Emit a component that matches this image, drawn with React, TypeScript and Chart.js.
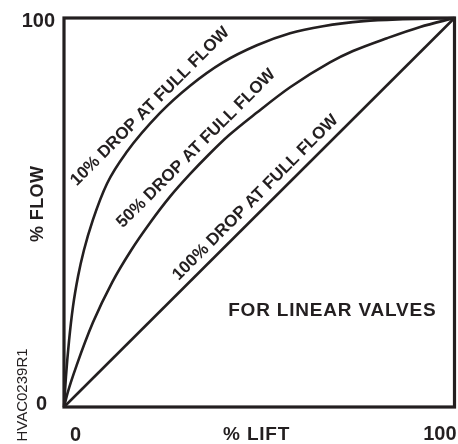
import React, { useEffect, useRef } from 'react';
import { Chart, registerables } from 'chart.js';

Chart.register(...registerables);

// ---- data ----
const liftTicks = [0, 100];
const flowTicks = [0, 100];

const lift10 = [0, 0.5, 1.3, 2.3, 3.6, 5.1, 7.4, 11, 16.1, 24.6, 32.3, 40.7, 49.4, 57.9, 66.3, 76.8, 86.8, 100];
const flow10 = [0, 7.8, 17.1, 25.8, 33.6, 40.3, 48.1, 57.4, 65.6, 75.6, 82.6, 88.6, 93, 96.1, 97.9, 99.2, 99.7, 100];

const lift50 = [0, 1.0, 3.3, 7.4, 12.3, 17.2, 22, 27.1, 32.3, 37.1, 42.3, 49.4, 57.9, 68.1, 74, 82.7, 91.2, 100];
const flow50 = [0, 3.9, 10.9, 21.7, 32, 40.3, 47.3, 54, 59.9, 64.9, 69.9, 75.7, 82.2, 88.6, 91.5, 94.8, 97.7, 100];

const lift100 = [0, 100];
const flow100 = [0, 100];

const curveLabels = ['10% DROP AT FULL FLOW', '50% DROP AT FULL FLOW', '100% DROP AT FULL FLOW'];
const curveLabelLift = [21.8, 33.6, 48.8];
const curveLabelFlow = [77.5, 66.7, 54.1];

const noteText = 'FOR LINEAR VALVES';
const xTitle = '% LIFT';
const yTitle = '% FLOW';
const figureCode = 'HVAC0239R1';

const INK = '#231f20';
const FONT = '"Liberation Sans", Arial, Helvetica, sans-serif';

function toPoints(xs: number[], ys: number[]) {
  return xs.map((x, i) => ({ x, y: ys[i] }));
}

function drawText(
  ctx: CanvasRenderingContext2D,
  text: string,
  x: number,
  y: number,
  size: number,
  bold: boolean,
  align: CanvasTextAlign,
  rotation = 0,
  spacing = 0
) {
  ctx.save();
  ctx.translate(x, y);
  ctx.rotate(rotation);
  ctx.font = `${bold ? 'bold ' : ''}${size}px ${FONT}`;
  ctx.fillStyle = INK;
  ctx.textBaseline = 'alphabetic';
  (ctx as any).letterSpacing = `${spacing}px`;
  const w = ctx.measureText(text).width - spacing;
  let x0 = 0;
  if (align === 'center') x0 = -w / 2;
  else if (align === 'right') x0 = -w;
  ctx.textAlign = 'left';
  ctx.fillText(text, x0, size * 0.358);
  ctx.restore();
}

const decorPlugin = {
  id: 'decor',
  afterDatasetsDraw(chart: any) {
    const { ctx, chartArea, scales } = chart;
    const xs = scales.x;
    const ys = scales.y;
    ctx.save();
    // frame
    ctx.strokeStyle = INK;
    ctx.lineWidth = 3.2;
    ctx.strokeRect(chartArea.left, chartArea.top, chartArea.right - chartArea.left, chartArea.bottom - chartArea.top);

    // curve labels
    curveLabels.forEach((t, i) => {
      drawText(ctx, t, xs.getPixelForValue(curveLabelLift[i]), ys.getPixelForValue(curveLabelFlow[i]), 17, true, 'center', -Math.PI / 4);
    });

    // note
    drawText(ctx, noteText, xs.getPixelForValue(68.6), ys.getPixelForValue(25.1), 19, true, 'center', 0, 0.8);

    // y tick labels
    drawText(ctx, String(flowTicks[1]), chartArea.left - 9, ys.getPixelForValue(flowTicks[1]) + 1.5, 20, true, 'right');
    drawText(ctx, String(flowTicks[0]), chartArea.left - 17, ys.getPixelForValue(flowTicks[0]) - 4.5, 20, true, 'right');
    // x tick labels
    drawText(ctx, String(liftTicks[0]), xs.getPixelForValue(liftTicks[0]) + 6, chartArea.bottom + 27, 20, true, 'left');
    drawText(ctx, String(liftTicks[1]), xs.getPixelForValue(liftTicks[1]) + 2, chartArea.bottom + 26, 20, true, 'right');

    // axis titles
    drawText(ctx, xTitle, (chartArea.left + chartArea.right) / 2 - 3, chartArea.bottom + 26, 19, true, 'center', 0, 0.8);
    drawText(ctx, yTitle, 37, 204, 18, true, 'center', -Math.PI / 2, 0.4);

    // figure code
    drawText(ctx, figureCode, 21.5, 395, 15, false, 'center', -Math.PI / 2);
    ctx.restore();
  },
};

export default function App() {
  const canvasRef = useRef<HTMLCanvasElement | null>(null);

  useEffect(() => {
    const canvas = canvasRef.current;
    if (!canvas) return;
    const common = {
      borderColor: INK,
      borderWidth: 2.6,
      pointRadius: 0,
      fill: false,
      cubicInterpolationMode: 'monotone' as const,
      clip: false as any,
    };
    const chart = new Chart(canvas, {
      type: 'line',
      data: {
        datasets: [
          { ...common, label: curveLabels[0], data: toPoints(lift10, flow10) },
          { ...common, label: curveLabels[1], data: toPoints(lift50, flow50) },
          { ...common, label: curveLabels[2], data: toPoints(lift100, flow100) },
        ],
      },
      options: {
        responsive: false,
        animation: false,
        devicePixelRatio: 1,
        layout: { padding: { left: 64, right: 3.5, top: 18, bottom: 37 } },
        scales: {
          x: { type: 'linear', min: 0, max: 100, display: false },
          y: { type: 'linear', min: 0, max: 100, display: false },
        },
        plugins: { legend: { display: false }, tooltip: { enabled: false } },
      },
      plugins: [decorPlugin],
    });
    return () => chart.destroy();
  }, []);

  return (
    <div style={{ position: 'fixed', left: 0, top: 0, width: 458, height: 444, background: '#fff' }}>
      <canvas ref={canvasRef} width={458} height={444} style={{ display: 'block', width: 458, height: 444 }} />
    </div>
  );
}
